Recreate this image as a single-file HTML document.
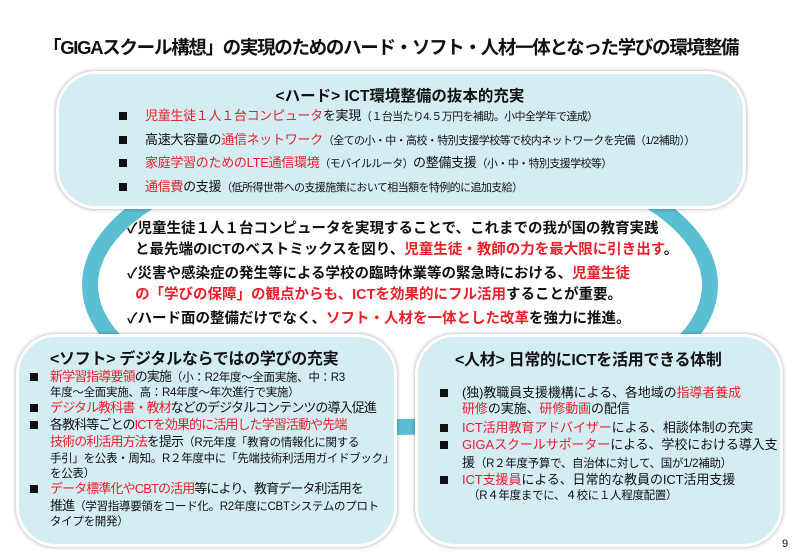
<!DOCTYPE html>
<html><head><meta charset="utf-8"><style>
body{margin:0;width:800px;height:554px;background:#fff;position:relative;overflow:hidden;font-family:"Liberation Sans","Noto Sans CJK JP",sans-serif;color:#111}
.a{position:absolute;white-space:nowrap}
.box{position:absolute;background:#d3edf3;border:3px solid #fff;box-shadow:0 0 4px rgba(0,0,0,.35);border-radius:40px}
.r{color:#e8202a}
.s{font-size:11px;letter-spacing:-0.6px}
.b{font-weight:bold}
.q{position:absolute;width:8px;height:8px;background:#111}
.L{position:absolute;white-space:nowrap;font-size:13px;letter-spacing:-0.9px;line-height:16px}
.L .s,.L.s{font-size:11.5px;letter-spacing:-0.3px}
.R{letter-spacing:-0.1px}
</style></head><body>
<div class="a b" style="left:43px;top:34px;font-size:18.5px;letter-spacing:-1.3px">「GIGAスクール構想」の実現のためのハード・ソフト・人材一体となった学びの環境整備</div>
<svg class="a" style="left:0;top:0" width="800" height="554"><ellipse cx="400" cy="285" rx="310" ry="142" fill="#fff" stroke="#5bbfd3" stroke-width="16"/></svg>
<div class="box" style="left:56px;top:71px;width:684px;height:132px"></div>
<div class="a b" style="left:0;width:800px;text-align:center;top:84px;font-size:15.5px">&lt;ハード&gt; ICT環境整備の抜本的充実</div>
<div class="a" style="left:117px;top:105px;font-size:13px;line-height:21.5px;letter-spacing:-0.3px">
<div style="position:relative;padding-left:28px"><span class="q" style="left:2px;top:7px"></span><span class="r">児童生徒１人１台コンピュータ</span>を実現<span class="s">（１台当たり4.５万円を補助。小中全学年で達成）</span></div>
<div style="position:relative;padding-left:28px"><span class="q" style="left:2px;top:7px"></span>高速大容量の<span class="r">通信ネットワーク</span><span class="s">（全ての小・中・高校・特別支援学校等で校内ネットワークを完備（1/2補助））</span></div>
<div style="position:relative;padding-left:28px"><span class="q" style="left:2px;top:7px"></span><span class="r">家庭学習のためのLTE通信環境</span><span class="s">（モバイルルータ）</span>の整備支援<span class="s">（小・中・特別支援学校等）</span></div>
<div style="position:relative;padding-left:28px"><span class="q" style="left:2px;top:7px"></span><span class="r">通信費</span>の支援<span class="s">（低所得世帯への支援施策において相当額を特例的に追加支給）</span></div>
</div>
<div class="a b" style="left:127px;top:219px;font-size:14.5px;line-height:21px">
✓児童生徒１人１台コンピュータを実現することで、これまでの我が国の教育実践<br>
&nbsp;&nbsp;と最先端のICTのベストミックスを図り、<span class="r">児童生徒・教師の力を最大限に引き出す</span>。<br>
<div style="height:3px"></div>
✓災害や感染症の発生等による学校の臨時休業等の緊急時における、<span class="r">児童生徒</span><br>
&nbsp;&nbsp;<span class="r">の「学びの保障」の観点からも、ICTを効果的にフル活用</span>することが重要。<br>
<div style="height:3px"></div>
✓ハード面の整備だけでなく、<span class="r">ソフト・人材を一体とした改革</span>を強力に推進。</div>
<div class="box" style="left:16px;top:334px;width:375px;height:207px"></div>
<div class="box" style="left:415px;top:334px;width:362px;height:207px"></div>
<div class="a b" style="left:50px;top:345px;font-size:16px;letter-spacing:-0.3px">&lt;ソフト&gt; デジタルならではの学びの充実</div>
<div class="a b" style="left:455px;top:346px;font-size:16px;letter-spacing:-0.3px">&lt;人材&gt; 日常的にICTを活用できる体制</div>

<span class="q" style="left:30px;top:373px"></span>
<div class="L" style="left:50px;top:369px"><span class="r">新学習指導要領</span>の実施<span class="s">（小：R2年度～全面実施、中：R3</span></div>
<div class="L s" style="left:50px;top:385px">年度～全面実施、高：R4年度～年次進行で実施）</div>
<span class="q" style="left:30px;top:404px"></span>
<div class="L" style="left:50px;top:400px"><span class="r">デジタル教科書・教材</span>などのデジタルコンテンツの導入促進</div>
<span class="q" style="left:30px;top:421px"></span>
<div class="L" style="left:50px;top:417px">各教科等ごとの<span class="r">ICTを効果的に活用した学習活動や先端</span></div>
<div class="L" style="left:50px;top:434px"><span class="r">技術の利活用方法</span>を提示<span class="s">（R元年度「教育の情報化に関する</span></div>
<div class="L s" style="left:50px;top:451px">手引」を公表・周知。R２年度中に「先端技術利活用ガイドブック」</div>
<div class="L s" style="left:50px;top:466px">を公表）</div>
<span class="q" style="left:30px;top:485px"></span>
<div class="L" style="left:50px;top:481px"><span class="r">データ標準化やCBTの活用</span>等により、教育データ利活用を</div>
<div class="L" style="left:50px;top:498px">推進<span class="s">（学習指導要領をコード化。R2年度にCBTシステムのプロト</span></div>
<div class="L s" style="left:50px;top:514px">タイプを開発）</div>

<span class="q" style="left:440px;top:389px"></span>
<div class="L R" style="left:462px;top:385px">(独)教職員支援機構による、各地域の<span class="r">指導者養成</span></div>
<div class="L R" style="left:462px;top:401px"><span class="r">研修</span>の実施、<span class="r">研修動画</span>の配信</div>
<span class="q" style="left:440px;top:424px"></span>
<div class="L R" style="left:462px;top:420px"><span class="r">ICT活用教育アドバイザー</span>による、相談体制の充実</div>
<span class="q" style="left:440px;top:441px"></span>
<div class="L R" style="left:462px;top:437px"><span class="r">GIGAスクールサポーター</span>による、学校における導入支</div>
<div class="L R" style="left:462px;top:455px">援<span class="s">（R２年度予算で、自治体に対して、国が1/2補助）</span></div>
<span class="q" style="left:440px;top:476px"></span>
<div class="L R" style="left:462px;top:472px"><span class="r">ICT支援員</span>による、日常的な教員のICT活用支援</div>
<div class="L s" style="left:468px;top:488px">（R４年度までに、４校に１人程度配置）</div>
<div class="a" style="left:782px;top:538px;font-size:11px">9</div>
</body></html>
